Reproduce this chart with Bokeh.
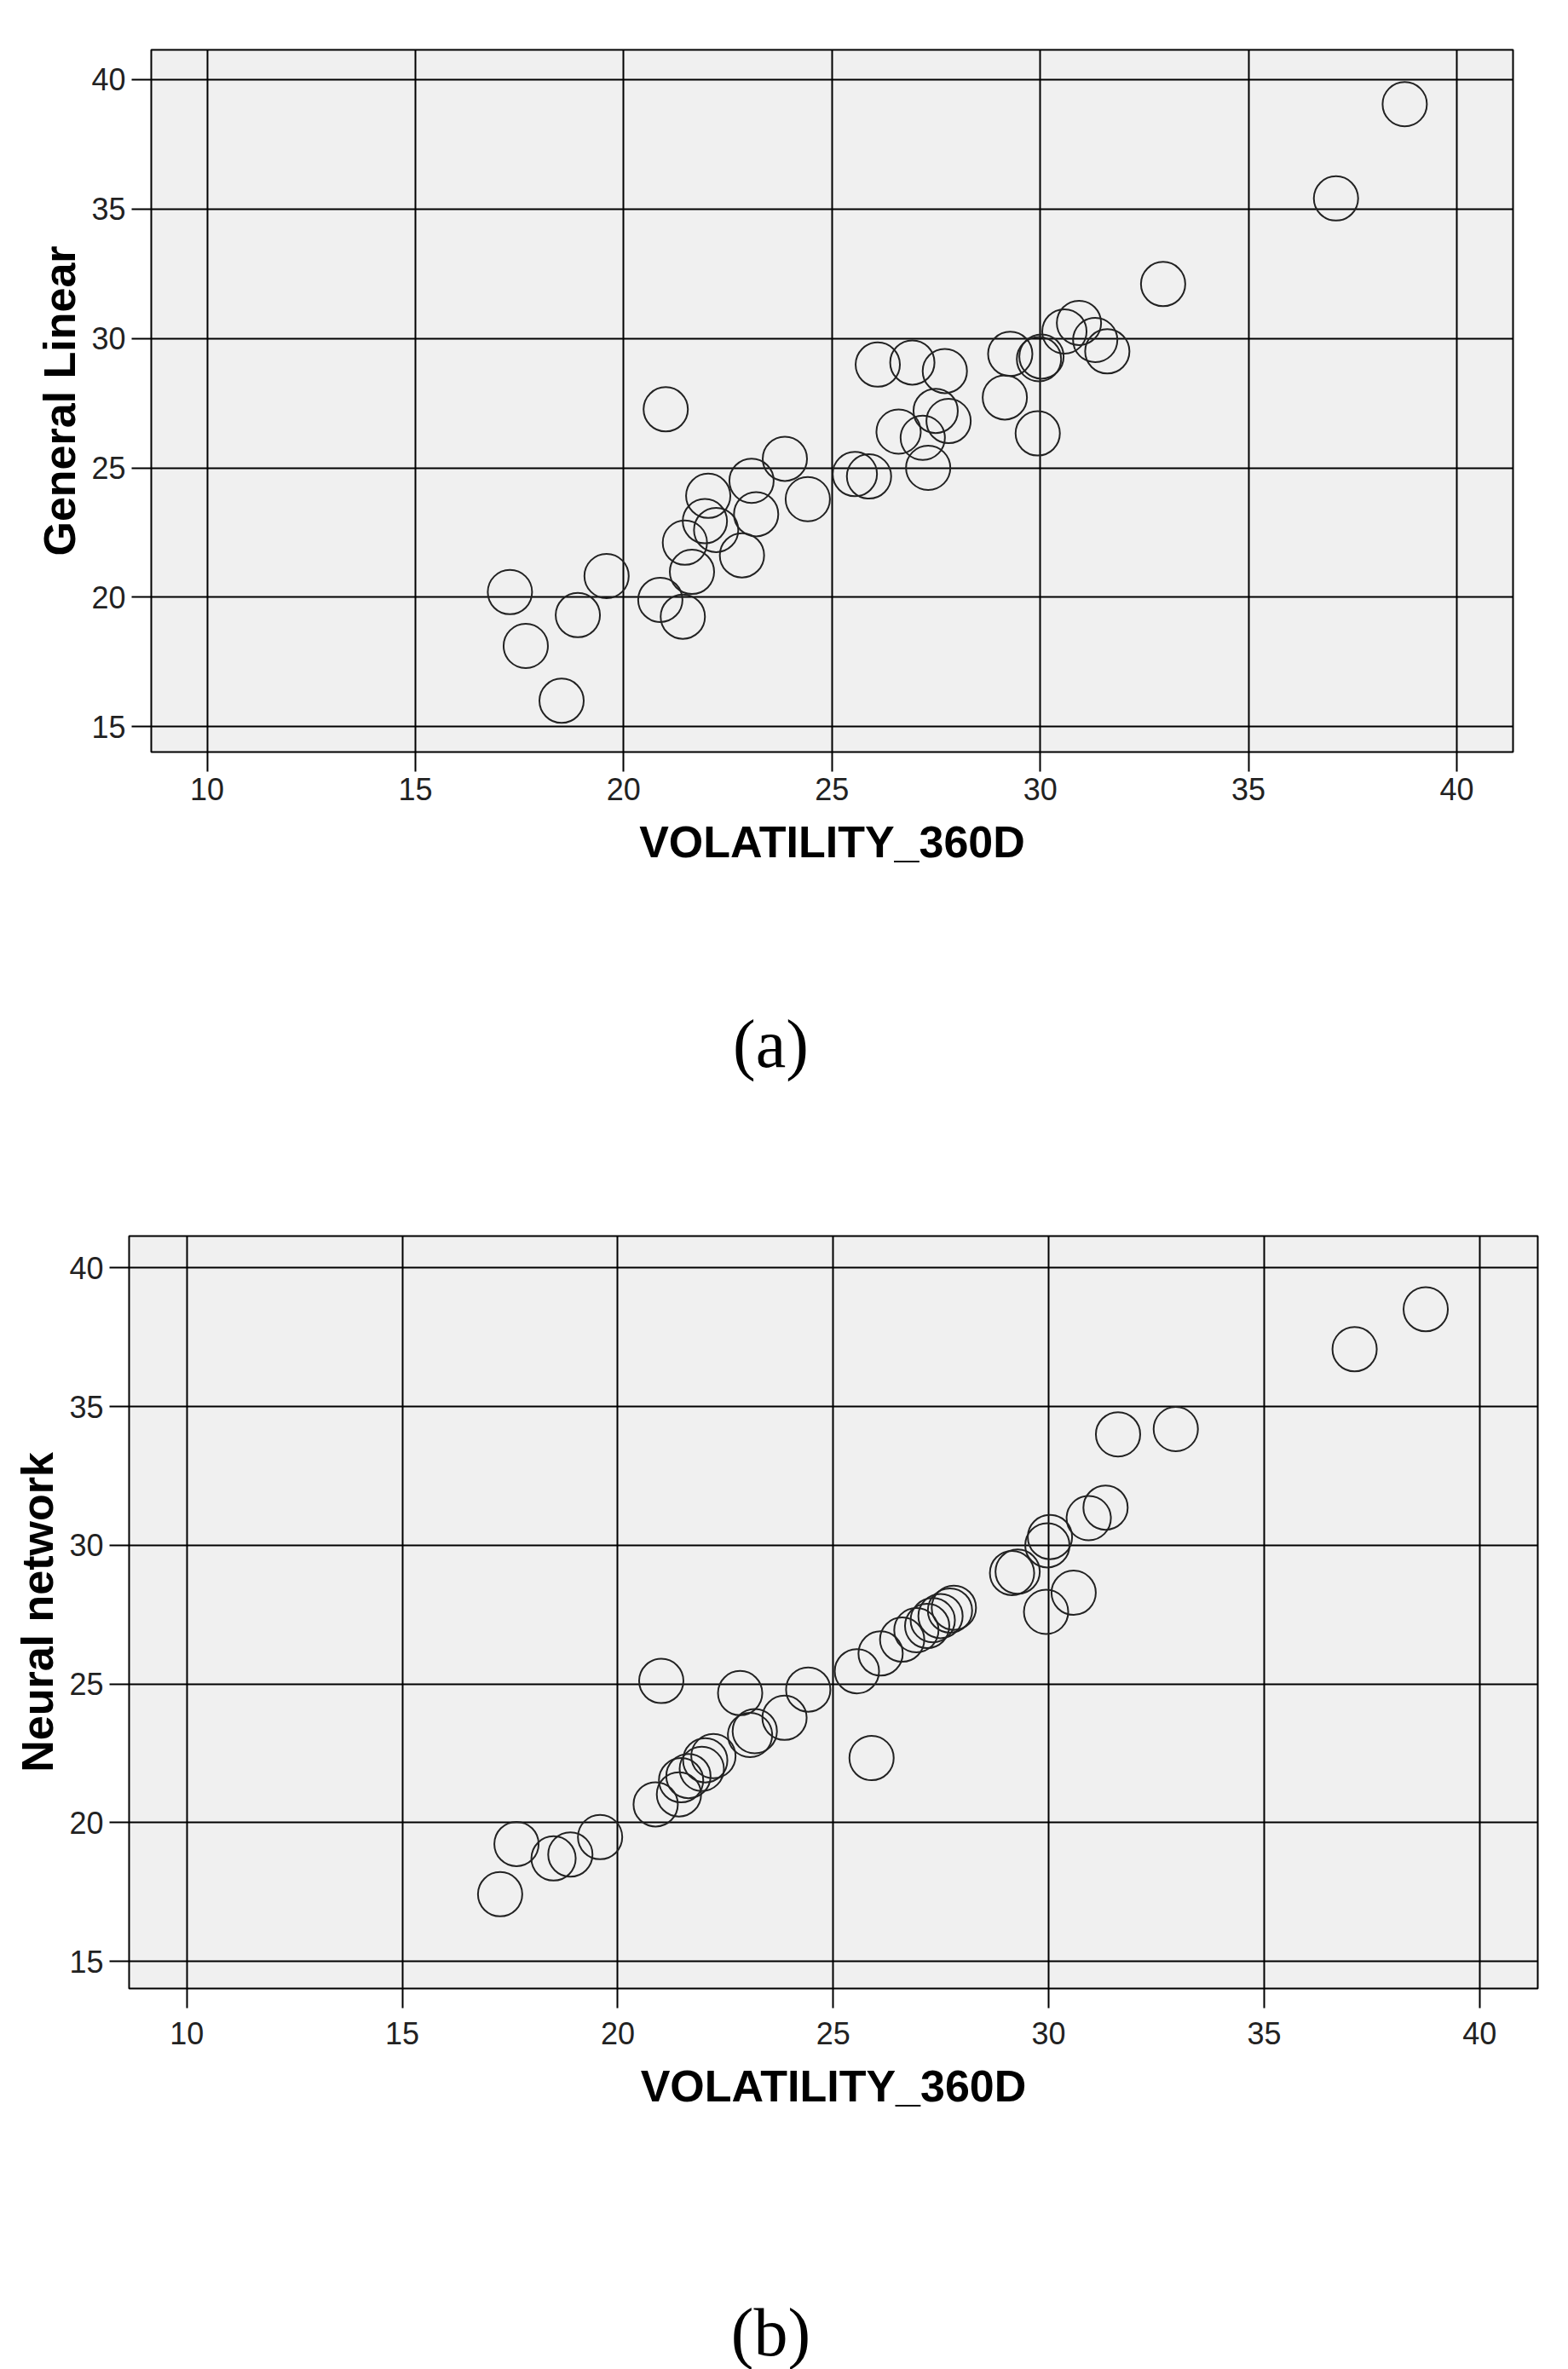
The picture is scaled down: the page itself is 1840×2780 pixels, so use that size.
from bokeh.plotting import figure
from bokeh.models import Range1d, FixedTicker
from bokeh.layouts import column, row
from bokeh.embed import file_html
from bokeh.resources import INLINE

# ---- data ----
volatility_360d = [17.27, 17.65, 18.51, 18.90, 19.59, 20.88, 21.01, 21.42, 21.47, 21.64,
                   21.95, 22.03, 22.22, 22.84, 23.07, 23.18, 23.87, 24.42, 25.55, 25.89,
                   26.10, 26.60, 26.93, 27.18, 27.31, 27.49, 27.71, 27.80, 29.15, 29.28,
                   29.94, 29.97, 30.03, 30.58, 30.93, 31.32, 31.61, 32.95, 37.10, 38.75]
general_linear = [20.20, 18.12, 16.00, 19.31, 20.82, 19.90, 27.26, 19.25, 22.11, 20.98,
                  22.94, 23.92, 22.60, 21.62, 24.50, 23.21, 25.35, 23.79, 24.76, 24.67,
                  28.99, 26.40, 29.07, 26.16, 25.00, 27.20, 28.74, 26.81, 27.72, 29.40,
                  26.33, 29.20, 29.30, 30.27, 30.60, 29.94, 29.50, 32.10, 35.41, 39.05]
neural_network = [17.42, 19.23, 18.71, 18.85, 19.48, 20.66, 25.11, 21.02, 21.53, 21.68,
                  21.94, 22.25, 22.40, 24.67, 23.16, 23.30, 23.78, 24.80, 25.46, 22.33,
                  26.10, 26.60, 26.94, 27.09, 27.30, 27.45, 27.65, 27.75, 29.00, 29.05,
                  27.60, 30.00, 30.30, 28.29, 30.98, 31.36, 34.00, 34.19, 37.07, 38.51]
x_ticks = [10, 15, 20, 25, 30, 35, 40]
y_ticks = [15, 20, 25, 30, 35, 40]
x_limits = (8.66, 41.35)
y_limits = (14.02, 41.15)
x_label = "VOLATILITY_360D"
captions = ["(a)", "(b)"]

PAGE_W = 1824
CAP_W = 1808


def make_panel(yvals, ylabel, height, left, frame_w, top, frame_h, x_lbl_standoff):
    p = figure(width=PAGE_W, height=height, output_backend="svg", toolbar_location=None,
               x_range=Range1d(*x_limits), y_range=Range1d(*y_limits),
               min_border_left=left, min_border_right=PAGE_W - left - frame_w,
               min_border_top=top, min_border_bottom=height - top - frame_h)
    p.background_fill_color = "#f0f0f0"
    p.border_fill_color = "white"
    p.outline_line_color = "black"
    p.outline_line_width = 2

    for grid, ticks in ((p.xgrid, x_ticks), (p.ygrid, y_ticks)):
        grid.ticker = FixedTicker(ticks=ticks)
        grid.grid_line_color = "black"
        grid.grid_line_width = 2

    for ax, ticks in ((p.xaxis, x_ticks), (p.yaxis, y_ticks)):
        ax.ticker = FixedTicker(ticks=ticks)
        ax.axis_line_color = None
        ax.major_tick_in = 0
        ax.major_tick_out = 23
        ax.major_tick_line_width = 2
        ax.major_tick_line_color = "black"
        ax.minor_tick_line_color = None
        ax.major_label_text_font = "Liberation Sans"
        ax.major_label_text_font_size = "36px"
        ax.major_label_text_color = "#222222"
        ax.axis_label_text_font = "Liberation Sans"
        ax.axis_label_text_font_style = "bold"
        ax.axis_label_text_font_size = "52px"
        ax.axis_label_text_color = "black"
    p.xaxis.major_label_standoff = x_lbl_standoff
    p.xaxis.axis_label_standoff = 17
    p.yaxis.major_label_standoff = 7
    p.yaxis.axis_label_standoff = 5

    p.xaxis.axis_label = x_label
    p.yaxis.axis_label = ylabel

    p.scatter(volatility_360d, yvals, size=52, fill_color=None,
              line_color="#222222", line_width=2)
    return p


def make_caption(text, height, location, border):
    c = figure(width=CAP_W, height=height, output_backend="svg", toolbar_location=None,
               x_axis_location=None, y_axis_location=None, title=text,
               title_location=location,
               min_border_left=0, min_border_right=0, min_border_bottom=0,
               min_border_top=border)
    c.outline_line_color = None
    c.background_fill_color = "white"
    c.border_fill_color = "white"
    c.xgrid.visible = False
    c.ygrid.visible = False
    c.title.align = "center"
    c.title.standoff = 0
    c.title.text_font = "Liberation Serif"
    c.title.text_font_size = "80px"
    c.title.text_font_style = "normal"
    c.title.text_color = "black"
    return c


pa = make_panel(general_linear, "General Linear", height=1052,
                left=177, frame_w=1598, top=58, frame_h=824, x_lbl_standoff=7)
cap_a = make_caption(captions[0], height=348, location="above", border=216)
pb = make_panel(neural_network, "Neural network", height=1093,
                left=151, frame_w=1653, top=50, frame_h=883, x_lbl_standoff=16)
cap_b = make_caption(captions[1], height=287, location="below", border=0)

layout = column(row(pa), row(cap_a), row(pb), row(cap_b))
open("out.html", "w").write(file_html(layout, INLINE))
